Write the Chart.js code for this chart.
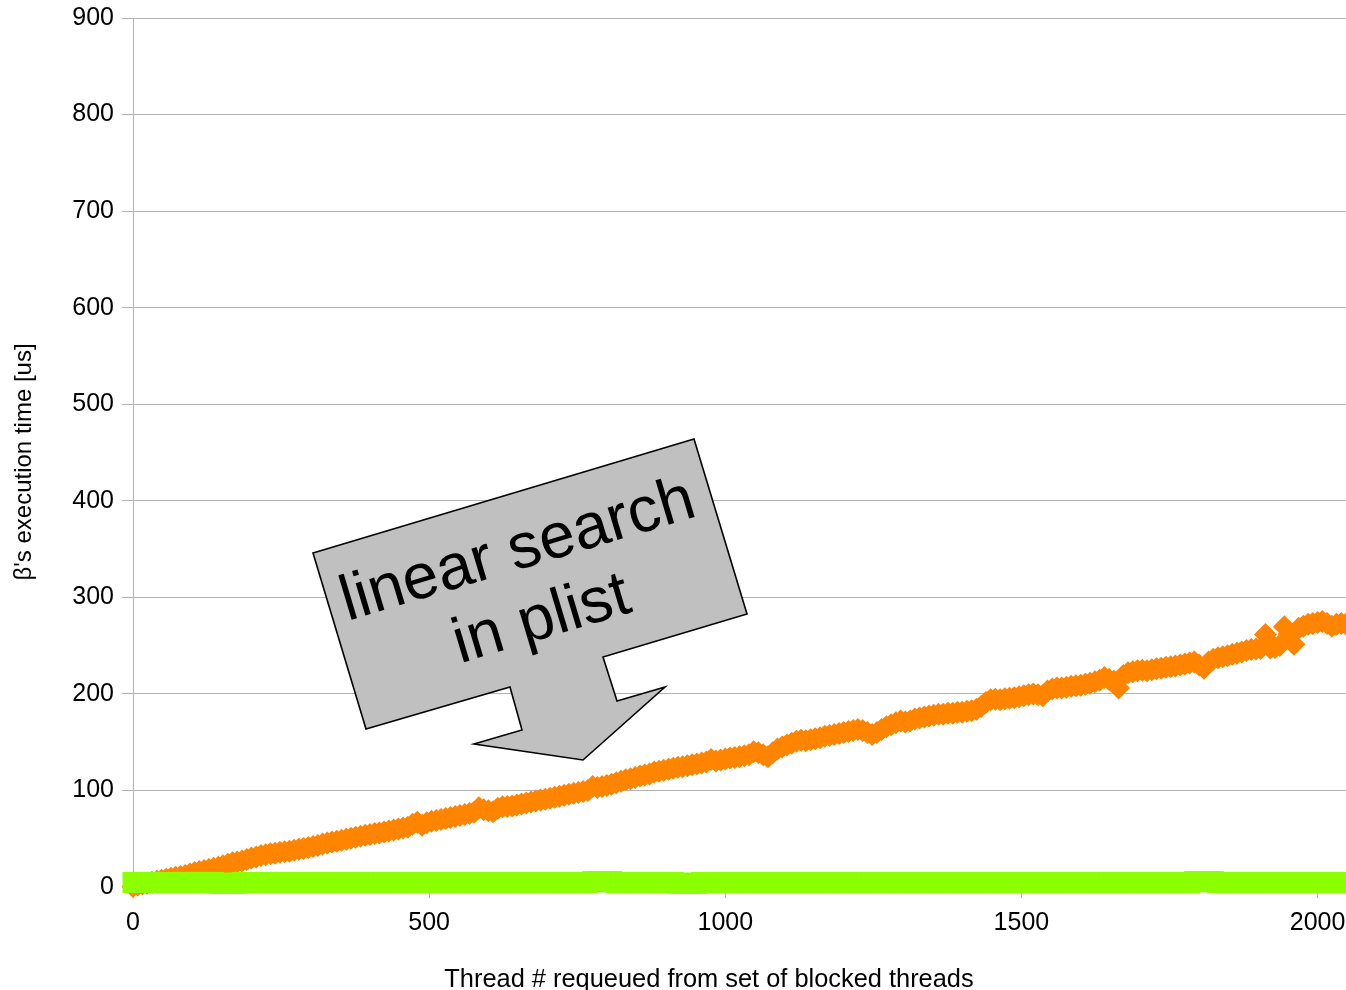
<!DOCTYPE html>
<html>
<head>
<meta charset="utf-8">
<title>β execution time per requeued thread</title>
<script src="https://cdn.jsdelivr.net/npm/chart.js@4/dist/chart.umd.min.js"></script>
<style>
  html, body { margin: 0; padding: 0; background: #ffffff; }
  canvas { display: block; }
</style>
</head>
<body>
<canvas id="chart" width="1346" height="990"></canvas>
<script>
// Threads are sampled every SAMPLE_STEP requeue operations (thread # 0 .. 2048).
const SAMPLE_STEP = 8;

// Execution time [us] with the linear search through the priority list.
const plistTimes = [
  0.5, 2, 3, 4, 5, 6, 7, 8, 9, 10, 11, 12, 13.5, 15, 16, 17,
  18, 19.5, 20.5, 22, 23.5, 25, 26, 27, 28.5, 30, 31, 32.5, 33.5, 34.5, 35, 36,
  36.5, 37, 38, 39, 40, 41, 42, 43, 44.5, 45.5, 46.5, 47.5, 48.5, 49.5, 50.5, 51.5,
  52.5, 53.5, 54.5, 55.5, 56, 57, 58, 59, 60, 61, 62, 65, 67, 64, 66.5, 68,
  69, 70, 71, 72, 73, 74, 75, 76, 77.5, 82, 80, 79, 78, 81.5, 83, 83.5,
  84, 85, 86, 87, 88, 89, 90, 91, 92, 93, 94, 95, 96, 97, 98, 99,
  100, 104, 103, 104, 105, 106.5, 108, 109.5, 111, 112, 113.5, 115, 116, 117, 119, 120,
  121, 122, 123, 124, 124.5, 125.5, 126.5, 127.5, 128.5, 129.5, 132, 130.5, 131.5, 132.5, 133.5, 134,
  135, 136, 137, 140, 139, 137, 135, 139, 143, 145, 147, 149, 151, 152, 151.5, 152.5,
  153.5, 154.5, 156, 157, 158, 159, 160, 161, 162, 163, 162, 160, 158, 160, 163, 166,
  168, 170, 172, 171, 172, 174, 175, 176, 177, 178, 179, 179, 180, 180, 181, 181,
  182, 182.5, 184, 187, 191, 194, 194.5, 194, 195, 195.5, 196, 197, 198, 199, 200, 199,
  198, 203, 205, 206, 206, 207, 208, 208.5, 209, 210, 211, 212.5, 214, 217, 215, 213,
  206, 219, 222, 223, 224, 224.5, 224, 225, 226, 226.5, 227.5, 228, 229, 230, 231, 232,
  233, 230, 226.5, 233, 236, 237.5, 238.5, 239.5, 241, 242, 243.5, 245, 246, 246.5, 247, 261.5,
  247.5, 248, 250, 269.5, 262, 251.5, 268, 270, 272, 273, 274, 275, 273, 270, 272, 273,
  272.5
];

// Execution time [us] with constant-time requeueing.
const constTimes = [
  4.7, 4.7, 4.7, 4.7, 4.7, 4.7, 4.7, 4.7, 4.7, 4.7, 4.7, 4.7, 4.7, 4.7, 4.7, 4.7,
  4.7, 4.7, 3.8, 3.8, 3.8, 3.8, 3.8, 4.7, 4.7, 4.7, 4.7, 4.7, 4.7, 4.7, 4.7, 4.7,
  4.7, 4.7, 4.7, 4.7, 4.7, 4.7, 4.7, 4.7, 4.7, 4.7, 4.7, 4.7, 4.7, 4.7, 4.7, 4.7,
  4.7, 4.7, 4.7, 4.7, 4.7, 4.7, 4.7, 4.7, 4.7, 4.7, 4.7, 4.7, 4.7, 4.7, 4.7, 4.7,
  4.7, 4.7, 4.7, 4.7, 4.7, 4.7, 4.7, 4.7, 4.7, 4.7, 4.7, 4.7, 4.7, 4.7, 4.7, 4.7,
  4.7, 4.7, 4.7, 4.7, 4.7, 4.7, 4.7, 4.7, 4.7, 4.7, 4.7, 4.7, 4.7, 4.7, 4.7, 4.7,
  4.7, 5.6, 5.6, 5.6, 5.6, 5.6, 4.7, 4.7, 4.7, 4.7, 4.7, 4.7, 4.7, 4.7, 4.7, 4.7,
  4.7, 4.7, 4.7, 3.8, 3.8, 3.8, 3.8, 3.8, 4.7, 4.7, 4.7, 4.7, 4.7, 4.7, 4.7, 4.7,
  4.7, 4.7, 4.7, 4.7, 4.7, 4.7, 4.7, 4.7, 4.7, 4.7, 4.7, 4.7, 4.7, 4.7, 4.7, 4.7,
  4.7, 4.7, 4.7, 4.7, 4.7, 4.7, 4.7, 4.7, 4.7, 4.7, 4.7, 4.7, 4.7, 4.7, 4.7, 4.7,
  4.7, 4.7, 4.7, 4.7, 4.7, 4.7, 4.7, 4.7, 4.7, 4.7, 4.7, 4.7, 4.7, 4.7, 4.7, 4.7,
  4.7, 4.7, 4.7, 4.7, 4.7, 4.7, 4.7, 4.7, 4.7, 4.7, 4.7, 4.7, 4.7, 4.7, 4.7, 4.7,
  4.7, 4.7, 4.7, 4.7, 4.7, 4.7, 4.7, 4.7, 4.7, 4.7, 4.7, 4.7, 4.7, 4.7, 4.7, 4.7,
  4.7, 4.7, 4.7, 4.7, 4.7, 4.7, 4.7, 4.7, 4.7, 4.7, 4.7, 4.7, 4.7, 4.7, 4.7, 4.7,
  5.6, 5.6, 5.6, 5.6, 5.6, 4.7, 4.7, 4.7, 4.7, 4.7, 4.7, 4.7, 4.7, 4.7, 4.7, 4.7,
  4.7, 4.7, 4.7, 4.7, 4.7, 4.7, 4.7, 4.7, 4.7, 4.7, 4.7, 4.7, 4.7, 4.7, 4.7, 4.7,
  4.7
];

const xTicks = [0, 500, 1000, 1500, 2000];
const yTicks = [0, 100, 200, 300, 400, 500, 600, 700, 800, 900];

const xTitle = 'Thread # requeued from set of blocked threads';
const yTitle = 'β\'s execution time [us]';
const calloutLines = ['linear search', 'in plist'];

const FONT = "'Liberation Sans', Arial, sans-serif";
const GRID = '#b3b3b3';

const toPoints = (values) => values.map((v, i) => ({ x: i * SAMPLE_STEP, y: v }));

// Axis titles placed like the original office chart (not centred on the plot).
const axisTitles = {
  id: 'axisTitles',
  afterDraw(chart) {
    const ctx = chart.ctx;
    ctx.save();
    ctx.fillStyle = '#000';
    ctx.font = '25.4px ' + FONT;
    ctx.textAlign = 'center';
    ctx.textBaseline = 'middle';
    ctx.fillText(xTitle, 709, 980);
    ctx.translate(24, 462);
    ctx.rotate(-Math.PI / 2);
    ctx.font = '24px ' + FONT;
    ctx.fillText(yTitle, 0, 0);
    ctx.restore();
  }
};

// Grey arrow-shaped callout pointing at the plist curve.
const callout = {
  id: 'callout',
  afterDatasetsDraw(chart) {
    const ctx = chart.ctx;
    const shape = [
      [313, 553], [694, 439], [747, 614], [603, 657], [617, 701], [665, 687],
      [583, 760], [474, 744], [522, 730], [510, 687], [366, 729]
    ];
    ctx.save();
    ctx.beginPath();
    shape.forEach(([px, py], i) => (i ? ctx.lineTo(px, py) : ctx.moveTo(px, py)));
    ctx.closePath();
    ctx.fillStyle = '#c0c0c0';
    ctx.fill();
    ctx.lineWidth = 1.6;
    ctx.strokeStyle = '#000';
    ctx.lineJoin = 'miter';
    ctx.stroke();

    ctx.translate(528, 585);
    ctx.rotate(-16.66 * Math.PI / 180);
    ctx.fillStyle = '#000';
    ctx.font = '64px ' + FONT;
    ctx.textAlign = 'center';
    ctx.textBaseline = 'middle';
    ctx.fillText(calloutLines[0], 0, -35);
    ctx.fillText(calloutLines[1], 3, 38);
    ctx.restore();
  }
};

// Keep the plot box fixed: no extra room reserved for overhanging tick labels.
const noLabelPadding = (scale) => {
  scale.paddingLeft = 0;
  scale.paddingRight = 0;
  scale.paddingTop = 0;
  scale.paddingBottom = 0;
};

new Chart(document.getElementById('chart'), {
  type: 'scatter',
  data: {
    datasets: [
      {
        label: 'constant time',
        data: toPoints(constTimes),
        pointStyle: 'rect',          // square marks, 21 px wide
        pointRadius: 14.85,
        pointHoverRadius: 14.85,
        backgroundColor: '#8cff00',
        borderWidth: 0,
        clip: false
      },
      {
        label: 'linear search in plist',
        data: toPoints(plistTimes),
        pointStyle: 'rectRot',       // diamond marks
        pointRadius: 11.5,
        pointHoverRadius: 11.5,
        backgroundColor: '#ff8400',
        borderWidth: 0,
        clip: false
      }
    ]
  },
  options: {
    responsive: false,
    animation: false,
    events: [],
    layout: { autoPadding: false, padding: { top: 18, right: 0, bottom: 0, left: 0 } },
    plugins: {
      legend: { display: false },
      tooltip: { enabled: false }
    },
    scales: {
      x: {
        type: 'linear',
        min: 0,
        max: 2048,
        afterBuildTicks: (scale) => { scale.ticks = xTicks.map(v => ({ value: v })); },
        afterFit: (scale) => { scale.height = 103; noLabelPadding(scale); },
        ticks: {
          includeBounds: false,
          maxRotation: 0,
          padding: 10,
          color: '#000',
          font: { family: FONT, size: 25 },
          callback: (v) => String(v)
        },
        grid: { drawOnChartArea: false, color: GRID, tickLength: 11 },
        border: { color: GRID }
      },
      y: {
        type: 'linear',
        min: 0,
        max: 900,
        afterBuildTicks: (scale) => { scale.ticks = yTicks.map(v => ({ value: v })); },
        afterFit: (scale) => { scale.width = 133; noLabelPadding(scale); },
        ticks: {
          padding: 8,
          color: '#000',
          font: { family: FONT, size: 25 },
          callback: (v) => String(v)
        },
        grid: { color: GRID, tickLength: 11 },
        border: { color: GRID }
      }
    }
  },
  plugins: [callout, axisTitles]
});
</script>
</body>
</html>
